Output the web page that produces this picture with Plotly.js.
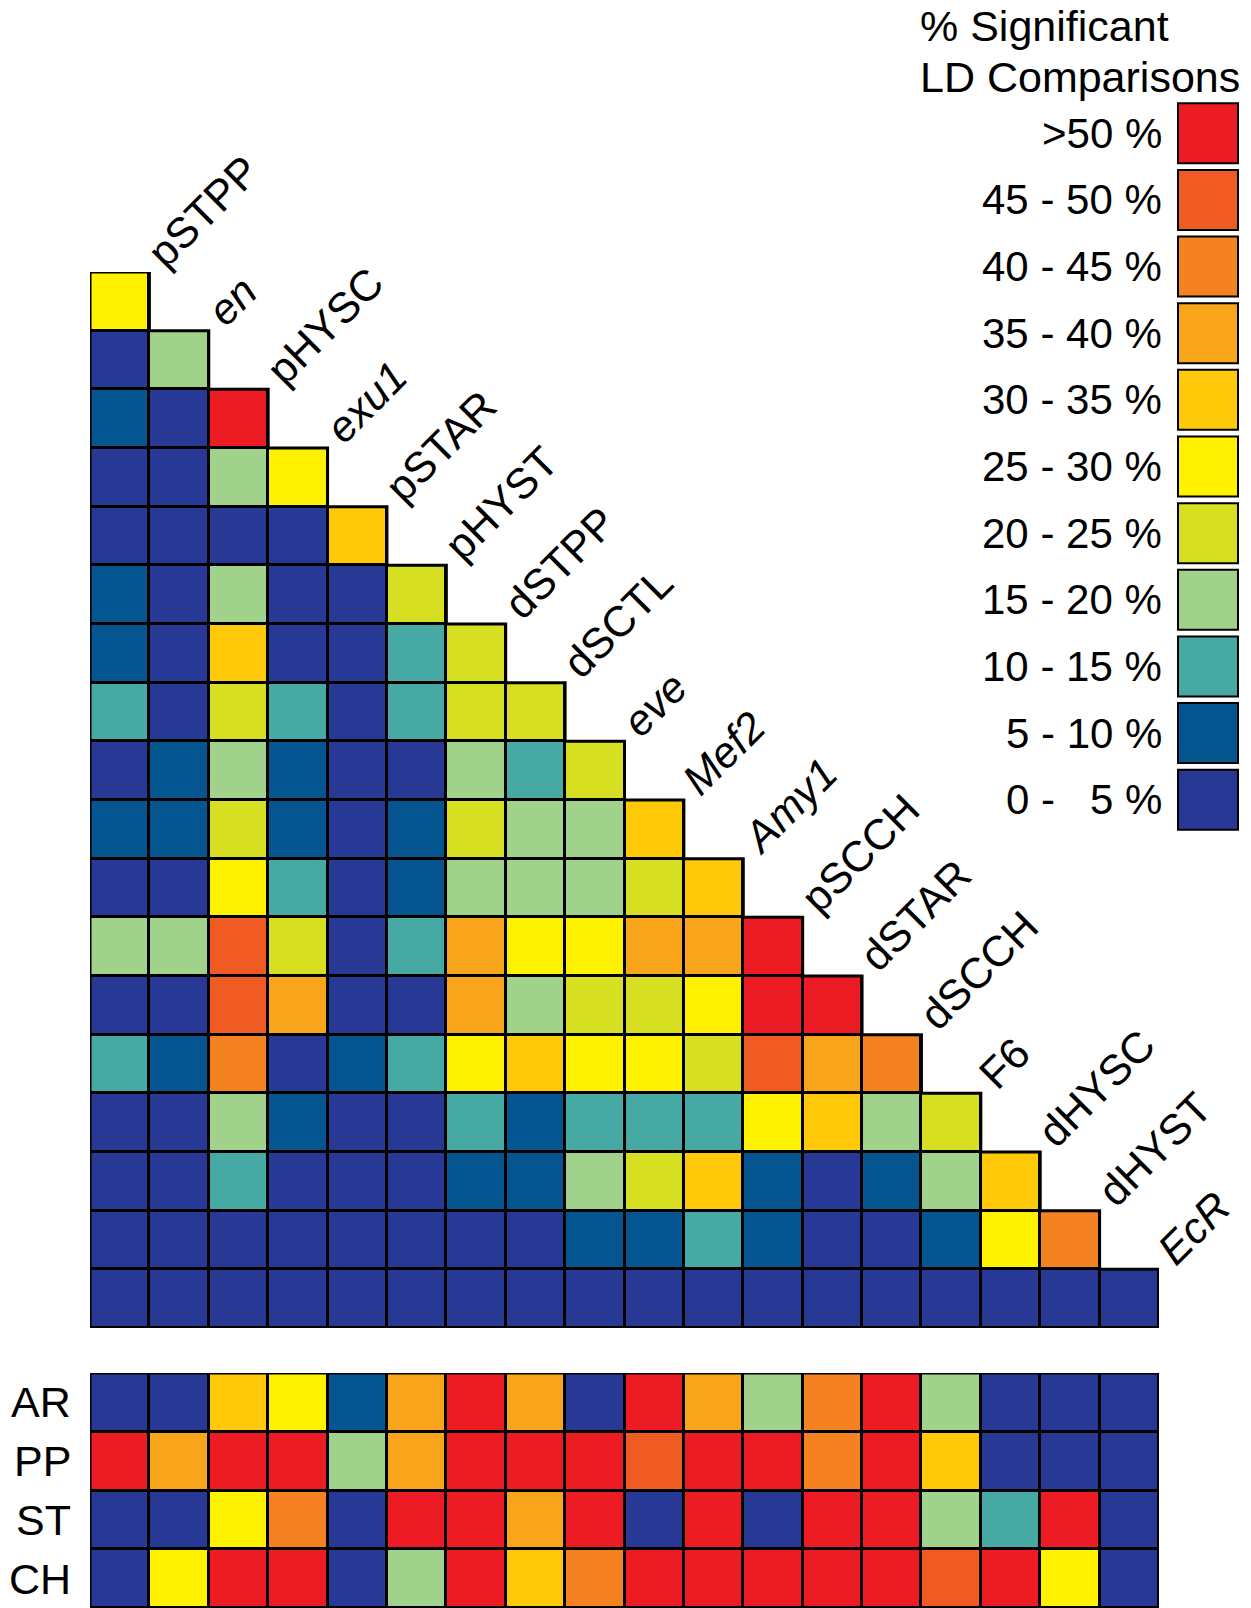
<!DOCTYPE html>
<html><head><meta charset="utf-8">
<script src="https://cdn.plot.ly/plotly-3.0.1.min.js"></script>
<style>html,body{margin:0;padding:0;background:#fff;} #chart{width:1251px;height:1608px;}</style>
</head><body><div id="chart"></div>
<script>
// ---- data ----
const genes = ['pSTPP','en','pHYSC','exu1','pSTAR','pHYST','dSTPP','dSCTL','eve','Mef2','Amy1','pSCCH','dSTAR','dSCCH','F6','dHYSC','dHYST','EcR'];
const italicGenes = ['en','exu1','eve','Mef2','Amy1','EcR'];
// class codes: 0 = 0-5 %, 1 = 5-10 %, ... 9 = 45-50 %, 10 = >50 %
const classLabels = ['0\u00a0-\u00a0\u00a0\u00a05\u00a0%','5 - 10 %','10 - 15 %','15 - 20 %','20 - 25 %','25 - 30 %','30 - 35 %','35 - 40 %','40 - 45 %','45 - 50 %','>50 %'];
const classColors = ['#283895','#045590','#46A9A3','#A1D28C','#D7DF23','#FFF200','#FFC90A','#F9A51B','#F48221','#F05A23','#ED1C24'];
const ldRows = [
  [5],
  [0,3],
  [1,0,10],
  [0,0,3,5],
  [0,0,0,0,6],
  [1,0,3,0,0,4],
  [1,0,6,0,0,2,4],
  [2,0,4,2,0,2,4,4],
  [0,1,3,1,0,0,3,2,4],
  [1,1,4,1,0,1,4,3,3,6],
  [0,0,5,2,0,1,3,3,3,4,6],
  [3,3,9,4,0,2,7,5,5,7,7,10],
  [0,0,9,7,0,0,7,3,4,4,5,10,10],
  [2,1,8,0,1,2,5,6,5,5,4,9,7,8],
  [0,0,3,1,0,0,2,1,2,2,2,5,6,3,4],
  [0,0,2,0,0,0,1,1,3,4,6,1,0,1,3,6],
  [0,0,0,0,0,0,0,0,1,1,2,1,0,0,1,5,8],
  [0,0,0,0,0,0,0,0,0,0,0,0,0,0,0,0,0,0]
];
const popNames = ['AR','PP','ST','CH'];
const AR = [0,0,6,5,1,7,10,7,0,10,7,3,8,10,3,0,0,0];
const PP = [10,7,10,10,3,7,10,10,10,9,10,10,8,10,6,0,0,0];
const ST = [0,0,5,8,0,10,10,7,10,0,10,0,10,10,3,2,10,0];
const CH = [0,5,10,10,0,3,10,6,8,10,10,10,10,10,9,10,5,0];
const legendTitle = ['% Significant','LD Comparisons'];

// ---- helpers ----
const W = 1251, H = 1608;
const px = v => v / W, py = v => 1 - v / H;
const FONT = 'Arial, "Liberation Sans", Helvetica, sans-serif';
const n = genes.length;
const colorscale = [];
classColors.forEach((c, k) => { colorscale.push([k / classColors.length, c]); colorscale.push([(k + 1) / classColors.length, c]); });
const blackScale = [[0, '#000'], [1, '#000']];

const triZ = ldRows.map(r => { const row = r.slice(); while (row.length < n) row.push(null); return row; });
const triMask = triZ.map(r => r.map(v => v === null ? null : 0));
const popZ = [AR, PP, ST, CH];
const popMask = popZ.map(r => r.map(() => 0));

const hm = (z, yaxis, scale, gap) => ({
  type: 'heatmap', z: z, xaxis: 'x', yaxis: yaxis, colorscale: scale,
  zmin: scale === blackScale ? 0 : -0.5, zmax: scale === blackScale ? 1 : classColors.length - 0.5,
  showscale: false, hoverinfo: 'skip', xgap: gap, ygap: gap
});

// outline of the staircase, derived from the row lengths
const triOutX = [-0.5], triOutY = [-0.5];
ldRows.forEach((r, i) => { triOutX.push(r.length - 0.5, r.length - 0.5); triOutY.push(i - 0.5, i + 0.5); });
triOutX.push(-0.5, -0.5); triOutY.push(ldRows.length - 0.5, -0.5);
const popOutX = [-0.5, AR.length - 0.5, AR.length - 0.5, -0.5, -0.5];
const popOutY = [-0.5, -0.5, popNames.length - 0.5, popNames.length - 0.5, -0.5];
const outline = (x, y, yaxis) => ({
  type: 'scatter', mode: 'lines', x: x, y: y, xaxis: 'x', yaxis: yaxis,
  line: { color: '#000', width: 3 }, cliponaxis: false, hoverinfo: 'skip'
});

const traces = [
  hm(triMask, 'y', blackScale, 0),
  hm(triZ, 'y', colorscale, 3),
  hm(popMask, 'y2', blackScale, 0),
  hm(popZ, 'y2', colorscale, 3),
  outline(triOutX, triOutY, 'y'),
  outline(popOutX, popOutY, 'y2'),
  {
    type: 'scatter', mode: 'markers', xaxis: 'x3', yaxis: 'y3',
    x: classLabels.map(() => 0), y: classLabels.map((_, k) => k),
    marker: { symbol: 'square', size: 60, color: classColors, line: { color: '#000', width: 2 } },
    cliponaxis: false, hoverinfo: 'skip'
  }
];

const annotations = [];
genes.forEach((g, i) => {
  annotations.push({
    xref: 'x', yref: 'y', x: i + 0.5, y: i - 0.5,
    text: italicGenes.includes(g) ? '<i>' + g + '</i>' : g,
    textangle: -45, xanchor: 'left', yanchor: 'bottom', xshift: -11, yshift: -4,
    showarrow: false, borderpad: 0, borderwidth: 0,
    font: { family: FONT, size: 43, color: '#000' }
  });
});
classLabels.forEach((t, k) => {
  annotations.push({
    xref: 'x3', yref: 'y3', x: -0.5, y: k, text: t, xanchor: 'right', yanchor: 'middle', xshift: -15,
    showarrow: false, borderpad: 0, borderwidth: 0, font: { family: FONT, size: 42, color: '#000' }
  });
});
popNames.forEach((t, r) => {
  annotations.push({
    xref: 'paper', yref: 'y2', x: px(71), y: r, text: t, xanchor: 'right', yanchor: 'middle',
    showarrow: false, borderpad: 0, borderwidth: 0, font: { family: FONT, size: 43, color: '#000' }
  });
});
legendTitle.forEach((t, k) => {
  annotations.push({
    xref: 'paper', yref: 'paper', x: px(920), y: py(k === 0 ? 26 : 77), text: t, xanchor: 'left', yanchor: 'middle',
    showarrow: false, borderpad: 0, borderwidth: 0, font: { family: FONT, size: 43, color: '#000' }
  });
});

const hidden = { showgrid: false, zeroline: false, showticklabels: false, ticks: '', showline: false, fixedrange: true };
const layout = {
  width: W, height: H, margin: { l: 0, r: 0, t: 0, b: 0 },
  paper_bgcolor: '#fff', plot_bgcolor: 'rgba(0,0,0,0)', showlegend: false,
  xaxis: Object.assign({ domain: [px(90), px(1159)], range: [-0.5, n - 0.5], anchor: 'y' }, hidden),
  yaxis: Object.assign({ domain: [py(1328), py(272)], range: [n - 0.5, -0.5], anchor: 'x' }, hidden),
  yaxis2: Object.assign({ domain: [0, py(1373)], range: [popNames.length - 0.5, -0.5], anchor: 'x' }, hidden),
  xaxis3: Object.assign({ domain: [px(1177), px(1239)], range: [-0.5, 0.5], anchor: 'y3' }, hidden),
  yaxis3: Object.assign({ domain: [py(833), py(100)], range: [-0.5, classLabels.length - 0.5], anchor: 'x3' }, hidden),
  annotations: annotations
};
Plotly.newPlot('chart', traces, layout, { staticPlot: true, displayModeBar: false });
</script></body></html>
